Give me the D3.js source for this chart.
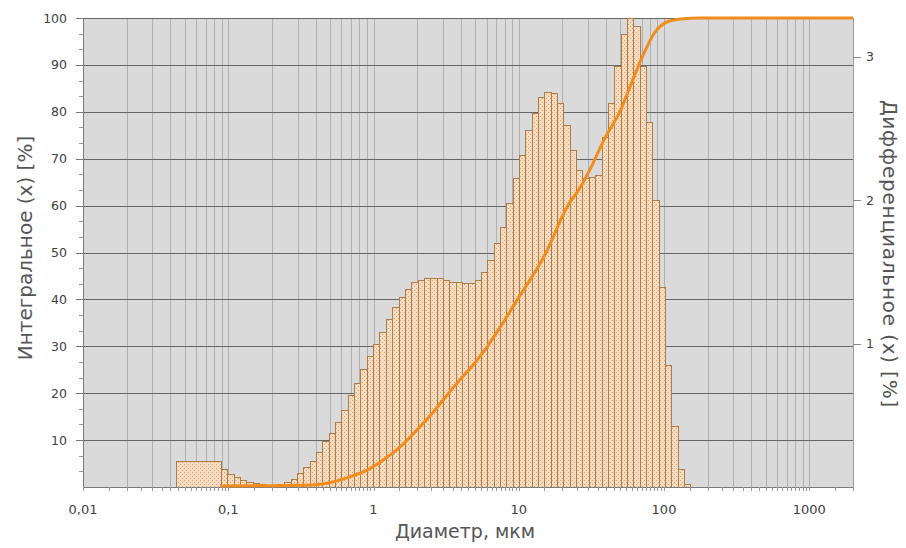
<!DOCTYPE html>
<html>
<head>
<meta charset="utf-8">
<script src="https://cdn.jsdelivr.net/npm/d3@7"></script>
<style>
  body { margin: 0; background: #fff; }
  text { font-family: "DejaVu Sans", Verdana, sans-serif; }
</style>
</head>
<body>
<script>
"use strict";

const m = { width: 906, height: 548, top: 18, right: 853, bottom: 487, left: 83 };

// axis ticks
const xTicks = [0.01, 0.1, 1, 10, 100, 1000];
const xTickLabels = ["0,01", "0,1", "1", "10", "100", "1000"];
const leftTicks = [10, 20, 30, 40, 50, 60, 70, 80, 90, 100];
const rightTicks = [1, 2, 3];

// first (wide) size class
const wideBin = { lo: 0.0437, hi: 0.089, value: 0.183 };

// narrow size classes between 0.089 and ~152 µm, differential [%]
const binStart = 0.089;
const binEnd = 151.7;
const diffValues = [
  0.123, 0.090, 0.072, 0.049, 0.035, 0.026, 0.021, 0.016, 0.015, 0.018,
  0.037, 0.059, 0.095, 0.137, 0.180, 0.245, 0.321, 0.380, 0.455, 0.537,
  0.645, 0.723, 0.821, 0.913, 0.998, 1.083, 1.171, 1.256, 1.328, 1.381,
  1.427, 1.443, 1.456, 1.459, 1.456, 1.443, 1.433, 1.427, 1.420, 1.420,
  1.443, 1.502, 1.587, 1.701, 1.816, 1.983, 2.156, 2.317, 2.490, 2.608,
  2.719, 2.758, 2.752, 2.676, 2.526, 2.353, 2.215, 2.156, 2.166, 2.176,
  2.444, 2.680, 2.938, 3.161, 3.272, 3.216, 2.938, 2.549, 2.002, 1.397,
  0.851, 0.425, 0.124, 0.023
];

// cumulative curve
const cumDiam = [0.088, 0.166, 0.313, 0.430, 0.531, 0.693, 0.903, 1.175, 1.531, 1.997,
  2.598, 3.387, 6.065, 7.49, 9.76, 15.3, 21.6, 26.67, 31.26, 38.6, 50.3, 62.2, 72.8,
  85.4, 105.6, 130.4, 179.2, 2000];
const cumValue = [0.2, 0.25, 0.35, 0.6, 1.1, 2.2, 3.6, 5.8, 8.6, 12.2,
  16.1, 20.5, 29.9, 34.2, 39.9, 49.8, 59.8, 64.0, 68.0, 74.0, 80.4, 87.5, 92.5,
  96.7, 99.2, 99.8, 100, 100];

const svg = d3
  .select("body")
  .append("svg")
  .attr("width", m.width)
  .attr("height", m.height);

const x = d3.scaleLog().domain([0.01, 2000]).range([m.left, m.right]);
const yL = d3.scaleLinear().domain([0, 100]).range([m.bottom, m.top]);
const yR = d3.scaleLinear().domain([0, d3.max(diffValues)]).range([m.bottom, m.top]);

// dotted fill
const pat = svg.append("defs").append("pattern")
  .attr("id", "dots")
  .attr("width", 4)
  .attr("height", 4)
  .attr("patternUnits", "userSpaceOnUse");
pat.append("rect").attr("width", 4).attr("height", 4).attr("fill", "#f5dbc0");
pat.append("rect").attr("x", 0).attr("y", 0).attr("width", 1).attr("height", 1).attr("fill", "#d8a176");
pat.append("rect").attr("x", 2).attr("y", 2).attr("width", 1).attr("height", 1).attr("fill", "#d8a176");

// plot background
svg.append("rect")
  .attr("x", m.left)
  .attr("y", m.top)
  .attr("width", m.right - m.left)
  .attr("height", m.bottom - m.top)
  .attr("fill", "#dadada");

// vertical grid
const vGrid = [];
for (let e = -2; e <= 3; e++) {
  for (let k = 2; k <= 10; k++) {
    const v = k * Math.pow(10, e);
    if (v < 2000) vGrid.push(v);
  }
}
svg.append("g")
  .selectAll("line")
  .data(vGrid)
  .enter()
  .append("line")
  .attr("x1", d => Math.round(x(d)) + 0.5)
  .attr("x2", d => Math.round(x(d)) + 0.5)
  .attr("y1", m.top)
  .attr("y2", m.bottom)
  .attr("stroke", "#b0b0b0")
  .attr("stroke-width", 1);

// horizontal grid
svg.append("g")
  .selectAll("line")
  .data(leftTicks)
  .enter()
  .append("line")
  .attr("x1", m.left)
  .attr("x2", m.right)
  .attr("y1", d => Math.round(yL(d)) + 0.5)
  .attr("y2", d => Math.round(yL(d)) + 0.5)
  .attr("stroke", "#666")
  .attr("stroke-width", 1);

// bars
const edges = d3.range(diffValues.length + 1)
  .map(k => binStart * Math.pow(binEnd / binStart, k / diffValues.length));
const bins = diffValues.map((v, k) => ({ lo: edges[k], hi: edges[k + 1], value: v }));
bins.unshift(wideBin);

svg.append("g")
  .selectAll("rect")
  .data(bins)
  .enter()
  .append("rect")
  .attr("x", d => Math.round(x(d.lo)) + 0.5)
  .attr("y", d => Math.round(yR(d.value)) + 0.5)
  .attr("width", d => Math.round(x(d.hi)) - Math.round(x(d.lo)))
  .attr("height", d => Math.max(0, Math.round(m.bottom) - Math.round(yR(d.value))))
  .attr("fill", "url(#dots)")
  .attr("stroke", "#ad7b45")
  .attr("stroke-width", 1);

// frame
svg.append("line")
  .attr("x1", m.left).attr("x2", m.right)
  .attr("y1", m.bottom + 0.5).attr("y2", m.bottom + 0.5)
  .attr("stroke", "#7a7a7a");
svg.append("line")
  .attr("x1", m.left + 0.5).attr("x2", m.left + 0.5)
  .attr("y1", m.top).attr("y2", m.bottom)
  .attr("stroke", "#7a7a7a");
svg.append("line")
  .attr("x1", m.right + 0.5).attr("x2", m.right + 0.5)
  .attr("y1", m.top).attr("y2", m.bottom)
  .attr("stroke", "#9a9a9a");

// cumulative curve
const line = d3.line()
  .x((d, i) => x(cumDiam[i]))
  .y(d => yL(d))
  .curve(d3.curveMonotoneX);
svg.append("path")
  .datum(cumValue)
  .attr("d", line)
  .attr("fill", "none")
  .attr("stroke", "#f28c1c")
  .attr("stroke-width", 3)
  .attr("stroke-linejoin", "round");

// left axis
const gl = svg.append("g");
const leftMinor = d3.range(0, 100, 10 / 3).filter(v => v % 10 > 0.1);
gl.selectAll("line.minor")
  .data(leftMinor)
  .enter()
  .append("line")
  .attr("x1", m.left - 4).attr("x2", m.left)
  .attr("y1", d => Math.round(yL(d)) + 0.5)
  .attr("y2", d => Math.round(yL(d)) + 0.5)
  .attr("stroke", "#999");
gl.selectAll("line.major")
  .data(leftTicks)
  .enter()
  .append("line")
  .attr("x1", m.left - 7).attr("x2", m.left)
  .attr("y1", d => Math.round(yL(d)) + 0.5)
  .attr("y2", d => Math.round(yL(d)) + 0.5)
  .attr("stroke", "#777");
gl.selectAll("text")
  .data(leftTicks)
  .enter()
  .append("text")
  .attr("x", 67)
  .attr("y", d => yL(d))
  .attr("dy", "0.36em")
  .attr("text-anchor", "end")
  .attr("font-size", 12.5)
  .attr("fill", "#404040")
  .text(d => d);

// right axis
const gr = svg.append("g");
gr.selectAll("line")
  .data(rightTicks)
  .enter()
  .append("line")
  .attr("x1", m.right).attr("x2", m.right + 8)
  .attr("y1", d => Math.round(yR(d)) + 0.5)
  .attr("y2", d => Math.round(yR(d)) + 0.5)
  .attr("stroke", "#888");
gr.selectAll("text")
  .data(rightTicks)
  .enter()
  .append("text")
  .attr("x", 866)
  .attr("y", d => yR(d))
  .attr("dy", "0.36em")
  .attr("font-size", 12.5)
  .attr("fill", "#404040")
  .text(d => d);

// bottom axis
const xMinor = [];
for (let e = -2; e <= 3; e++) {
  for (let k = 1; k < 10; k += 0.5) {
    const v = k * Math.pow(10, e);
    if (v <= 2000) xMinor.push(v);
  }
}
svg.append("g")
  .selectAll("line")
  .data(xMinor)
  .enter()
  .append("line")
  .attr("x1", d => Math.round(x(d)) + 0.5)
  .attr("x2", d => Math.round(x(d)) + 0.5)
  .attr("y1", m.bottom)
  .attr("y2", m.bottom + 4)
  .attr("stroke", "#999");
svg.append("g")
  .selectAll("text")
  .data(xTicks)
  .enter()
  .append("text")
  .attr("x", d => x(d))
  .attr("y", 514)
  .attr("text-anchor", "middle")
  .attr("font-size", 13)
  .attr("fill", "#404040")
  .text((d, i) => xTickLabels[i]);

// titles
svg.append("text")
  .attr("x", 465)
  .attr("y", 538)
  .attr("text-anchor", "middle")
  .attr("font-size", 19)
  .attr("fill", "#555")
  .text("Диаметр, мкм");

svg.append("text")
  .attr("transform", "translate(32,248) rotate(-90)")
  .attr("text-anchor", "middle")
  .attr("font-size", 20)
  .attr("fill", "#555")
  .text("Интегральное (x) [%]");

svg.append("text")
  .attr("transform", "translate(883,254) rotate(90)")
  .attr("text-anchor", "middle")
  .attr("font-size", 20)
  .attr("letter-spacing", 0.8)
  .attr("fill", "#555")
  .text("Дифференциальное (x) [%]");
</script>
</body>
</html>
